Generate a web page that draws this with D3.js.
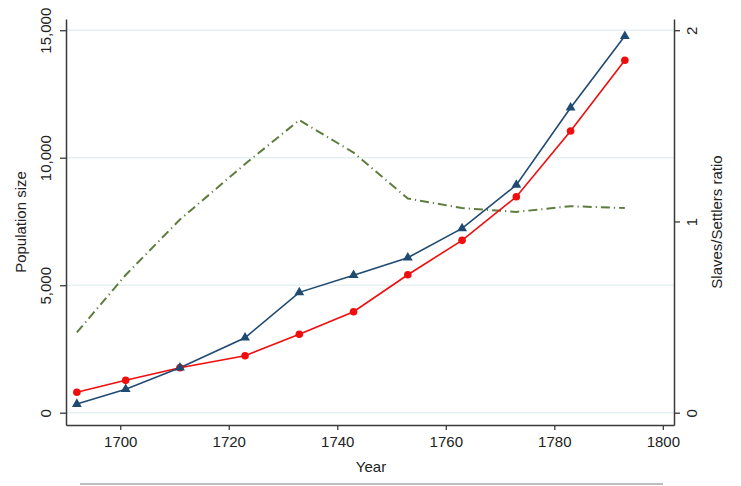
<!DOCTYPE html>
<html>
<head>
<meta charset="utf-8">
<script src="https://cdn.jsdelivr.net/npm/d3@7"></script>
<style>
  html, body { margin: 0; padding: 0; background: #fff; }
  svg { display: block; font-family: "Liberation Sans", Arial, Helvetica, sans-serif; }
</style>
</head>
<body>
<svg id="chart" width="741" height="486"></svg>
<script>
// ---- Data ----
const years = [1692, 1701, 1711, 1723, 1733, 1743, 1753, 1763, 1773, 1783, 1793];
const slaves = [340, 920, 1765, 2940, 4720, 5390, 6080, 7230, 8930, 11960, 14770];
const settlers = [800, 1270, 1765, 2235, 3075, 3960, 5410, 6760, 8470, 11050, 13820];
const ratio = [0.42, 0.72, 1.01, 1.30, 1.53, 1.36, 1.12, 1.07, 1.05, 1.08, 1.07];
const xTicks = [1700, 1720, 1740, 1760, 1780, 1800];
const yTicks = [0, 5000, 10000, 15000];
const y2Ticks = [0, 1, 2];
const xTitle = "Year";
const yTitle = "Population size";
const y2Title = "Slaves/Settlers ratio";

// ---- Layout ----
const svg = d3.select("#chart");
const mLeft = 66, mRight = 674, mTop = 19, mBottom = 425;

const x = d3.scaleLinear().domain([1690, 1802.06]).range([mLeft, mRight]);
const y = d3.scaleLinear().domain([-482, 15440]).range([mBottom, mTop]);
const y2 = d3.scaleLinear().domain([-482 / 7500, 15440 / 7500]).range([mBottom, mTop]);

const fontSize = 15;
const axisColor = "#3a3a3a";

// gridlines
svg.append("g")
  .selectAll("line")
  .data(yTicks)
  .join("line")
  .attr("x1", mLeft).attr("x2", mRight)
  .attr("y1", d => y(d)).attr("y2", d => y(d))
  .attr("stroke", "#e6eff1").attr("stroke-width", 1.5);

// left axis
const gL = svg.append("g").attr("transform", `translate(${mLeft},0)`)
  .call(d3.axisLeft(y).tickValues(yTicks).tickSize(6).tickSizeOuter(0).tickFormat(d3.format(",")));
// right axis
const gR = svg.append("g").attr("transform", `translate(${mRight},0)`)
  .call(d3.axisRight(y2).tickValues(y2Ticks).tickSize(6).tickSizeOuter(0).tickFormat(d3.format("d")));
// bottom axis
const gB = svg.append("g").attr("transform", `translate(0,${mBottom})`)
  .call(d3.axisBottom(x).tickValues(xTicks).tickSize(5).tickSizeOuter(0).tickFormat(d3.format("d")));

[gL, gR, gB].forEach(g => {
  g.select(".domain").attr("stroke", axisColor).attr("stroke-width", 1.5);
  g.selectAll(".tick line").attr("stroke", axisColor).attr("stroke-width", 1.3);
  g.selectAll(".tick text").attr("fill", "#222").style("font-size", fontSize + "px")
    .style("font-family", '"Liberation Sans", Arial, sans-serif');
});

gL.selectAll(".tick text")
  .attr("x", null).attr("dy", null)
  .attr("text-anchor", "middle")
  .attr("transform", "translate(-15,0) rotate(-90)")
  .attr("y", 0);
gR.selectAll(".tick text")
  .attr("x", null).attr("dy", null)
  .attr("text-anchor", "middle")
  .attr("transform", "translate(23,0) rotate(-90)")
  .attr("y", 0);
gB.selectAll(".tick text")
  .attr("dy", null).attr("y", 22);

// titles
svg.append("text")
  .attr("transform", `translate(26,${(mTop + mBottom) / 2}) rotate(-90)`)
  .attr("text-anchor", "middle").attr("fill", "#222")
  .style("font-size", fontSize + "px").text(yTitle);
svg.append("text")
  .attr("transform", `translate(722,${(mTop + mBottom) / 2}) rotate(-90)`)
  .attr("text-anchor", "middle").attr("fill", "#222")
  .style("font-size", fontSize + "px").text(y2Title);
svg.append("text")
  .attr("x", (mLeft + mRight) / 2 + 1).attr("y", 472)
  .attr("text-anchor", "middle").attr("fill", "#222")
  .style("font-size", fontSize + "px").text(xTitle);

// bottom separator line
svg.append("line")
  .attr("x1", 80).attr("x2", 663).attr("y1", 484).attr("y2", 484)
  .attr("stroke", "#a8a8a8").attr("stroke-width", 1.5);

// ---- series ----
const ratioLine = d3.line().x((d, i) => x(years[i])).y(d => y2(d));
svg.append("path")
  .attr("d", ratioLine(ratio))
  .attr("fill", "none").attr("stroke", "#5e7c3e").attr("stroke-width", 2)
  .attr("stroke-dasharray", "9,4,1.2,4");

const red = "#f00d0d", blue = "#1f4a72";
const popLine = d3.line().x((d, i) => x(years[i])).y(d => y(d));

svg.append("path")
  .attr("d", popLine(settlers))
  .attr("fill", "none").attr("stroke", red).attr("stroke-width", 1.6);
svg.append("path")
  .attr("d", popLine(slaves))
  .attr("fill", "none").attr("stroke", blue).attr("stroke-width", 1.6);

svg.append("g").selectAll("circle")
  .data(settlers).join("circle")
  .attr("cx", (d, i) => x(years[i])).attr("cy", d => y(d))
  .attr("r", 3.8).attr("fill", red);

const tri = d3.symbol().type(d3.symbolTriangle).size(42);
svg.append("g").selectAll("path")
  .data(slaves).join("path")
  .attr("d", tri)
  .attr("transform", (d, i) => `translate(${x(years[i])},${y(d)})`)
  .attr("fill", blue);
</script>
</body>
</html>
